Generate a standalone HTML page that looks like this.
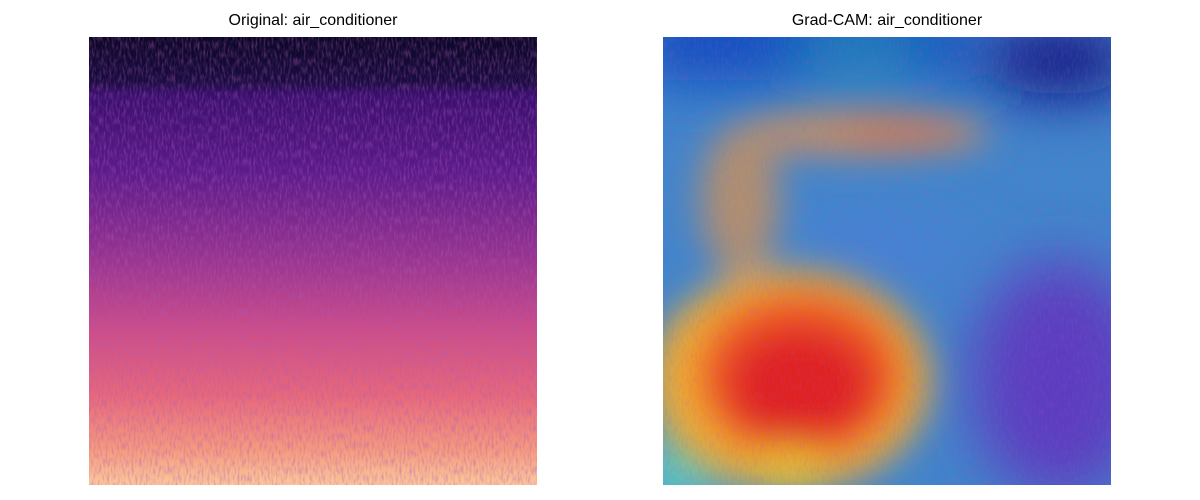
<!DOCTYPE html>
<html><head><meta charset="utf-8"><style>
html,body{margin:0;padding:0;background:#fff;width:1200px;height:500px;overflow:hidden}
.t{position:absolute;top:12px;font:16px "Liberation Sans","DejaVu Sans",sans-serif;color:#000;text-align:center;width:448px}
svg{position:absolute;top:0;left:0}
</style></head><body>
<div class="t" style="left:89px">Original: air_conditioner</div>
<div class="t" style="left:663px">Grad-CAM: air_conditioner</div>
<svg width="1200" height="500">
<defs>
<linearGradient id="mag" x1="0" y1="0" x2="0" y2="1">
<stop offset="0" stop-color="#0c0726"/>
<stop offset="0.1" stop-color="#1a0c40"/>
<stop offset="0.13" stop-color="#3a0f6e"/>
<stop offset="0.3" stop-color="#5c1a8a"/>
<stop offset="0.5" stop-color="#9a3590"/>
<stop offset="0.65" stop-color="#cc4c88"/>
<stop offset="0.8" stop-color="#e8687a"/>
<stop offset="0.92" stop-color="#f69a7e"/>
<stop offset="1" stop-color="#fcc79a"/>
</linearGradient>
<filter id="noise" x="0" y="0" width="1" height="1">
<feTurbulence type="fractalNoise" baseFrequency="0.5 0.12" numOctaves="2" seed="3"/>
<feColorMatrix type="matrix" values="0 0 0 0 0.4  0 0 0 0 0.1  0 0 0 0 0.5  0 0 0 1.0 -0.42"/>
</filter>
<filter id="b30" x="-50%" y="-50%" width="200%" height="200%"><feGaussianBlur stdDeviation="30"/></filter>
<filter id="b20" x="-50%" y="-50%" width="200%" height="200%"><feGaussianBlur stdDeviation="18"/></filter>
<clipPath id="cr"><rect x="663" y="37" width="448" height="448"/></clipPath>
<clipPath id="cl"><rect x="89" y="37" width="448" height="448"/></clipPath>
</defs>
<g clip-path="url(#cl)">
<rect x="89" y="37" width="448" height="448" fill="url(#mag)"/>
<rect x="89" y="37" width="448" height="448" filter="url(#noise)"/>
</g>
<g clip-path="url(#cr)">
<rect x="663" y="37" width="448" height="448" fill="#3f86cc"/>
<g filter="url(#b30)">
<rect x="640" y="0" width="330" height="80" fill="#1048c0"/>
<ellipse cx="860" cy="50" rx="70" ry="30" fill="#1a80b8"/>
<ellipse cx="1060" cy="60" rx="80" ry="35" fill="#0a0a80"/>
<ellipse cx="1060" cy="380" rx="90" ry="120" fill="#5c3cc0"/>
<ellipse cx="880" cy="250" rx="90" ry="25" fill="#4a80d8"/>
<ellipse cx="680" cy="470" rx="50" ry="40" fill="#60d8c0"/>
</g>
<g filter="url(#b20)">
<ellipse cx="860" cy="133" rx="130" ry="22" fill="#c89062"/>
<ellipse cx="900" cy="132" rx="60" ry="10" fill="#d07050"/>
<ellipse cx="740" cy="200" rx="40" ry="75" fill="#b09070"/>
<ellipse cx="790" cy="380" rx="140" ry="110" fill="#f0b030"/>
<ellipse cx="800" cy="375" rx="105" ry="85" fill="#f05a20"/>
<ellipse cx="800" cy="385" rx="75" ry="60" fill="#e02020"/>
<ellipse cx="790" cy="470" rx="40" ry="25" fill="#e8c030"/>
</g>
<rect x="663" y="37" width="448" height="448" filter="url(#noise)" opacity="0.4"/>
</g>
</svg>
</body></html>
